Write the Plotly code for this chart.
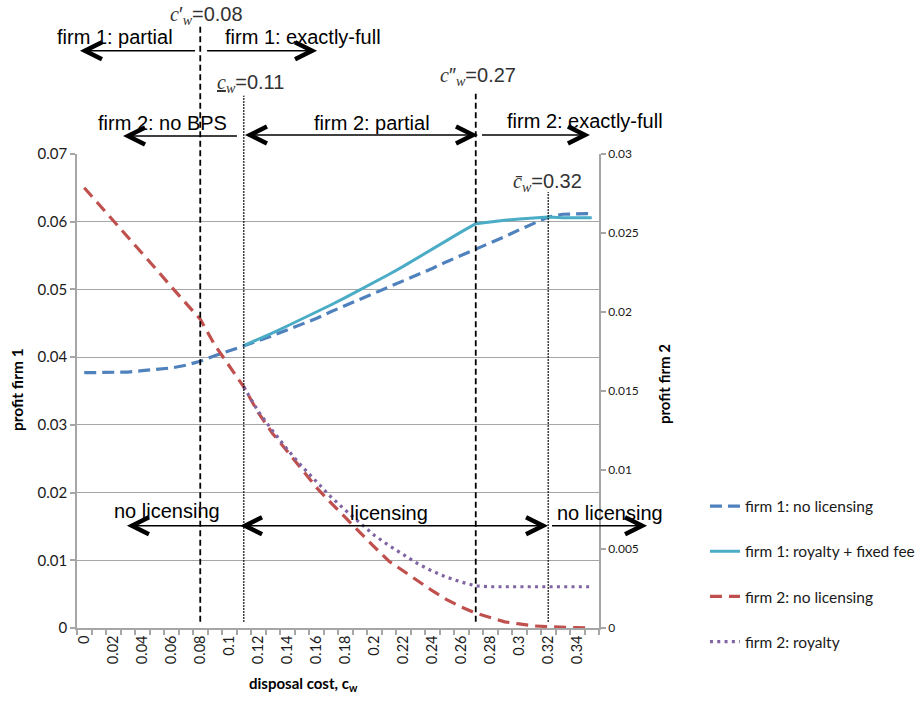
import plotly.graph_objects as go

# ---------------- data ----------------
cw = [0, 0.01, 0.02, 0.03, 0.04, 0.05, 0.06, 0.07, 0.08, 0.09,
      0.10, 0.11, 0.12, 0.13, 0.14, 0.15, 0.16, 0.17, 0.18, 0.19,
      0.20, 0.21, 0.22, 0.23, 0.24, 0.25, 0.26, 0.27, 0.28, 0.29,
      0.30, 0.31, 0.32, 0.33, 0.34, 0.35]

# profit firm 1 (left axis)
firm1_no_licensing = [0.0377, 0.0377, 0.0377, 0.0378, 0.0380, 0.0382, 0.0384, 0.0388, 0.0394, 0.0402,
                      0.0409, 0.0417, 0.0424, 0.0432, 0.0440, 0.0449, 0.0457, 0.0467, 0.0476, 0.0485,
                      0.0494, 0.0503, 0.0512, 0.0522, 0.0531, 0.0541, 0.0550, 0.0560, 0.0569, 0.0578,
                      0.0588, 0.0598, 0.0607, 0.0611, 0.0612, 0.0612]
firm1_royalty_fee = [None] * 11 + [0.0417, 0.0426, 0.0436, 0.0446, 0.0456, 0.0466, 0.0477, 0.0488, 0.0499,
                                   0.0510, 0.0522, 0.0534, 0.0547, 0.0560, 0.0572, 0.0585, 0.0597, 0.0600, 0.0602,
                                   0.0604, 0.0606, 0.0607, 0.0606, 0.0606, 0.0606]

# profit firm 2 (right axis)
firm2_no_licensing = [0.02786, 0.02683, 0.02576, 0.02473, 0.02370, 0.02267, 0.02160, 0.02057, 0.01954, 0.01791,
                      0.01654, 0.01526, 0.01363, 0.01230, 0.01119, 0.01003, 0.00891, 0.00793, 0.00699, 0.00604,
                      0.00514, 0.00424, 0.00360, 0.00300, 0.00236, 0.00180, 0.00133, 0.00094, 0.00064, 0.00039,
                      0.00026, 0.00013, 0.00009, 0.00004, 0.00002, 0.00000]
firm2_royalty = [None] * 11 + [0.01526, 0.01371, 0.01247, 0.01131, 0.01024, 0.00926, 0.00831, 0.00746, 0.00664,
                               0.00587, 0.00523, 0.00463, 0.00407, 0.00360, 0.00321, 0.00291, 0.00266, 0.00261, 0.00261,
                               0.00261, 0.00261, 0.00261, 0.00261, 0.00261, 0.00261]

x_tickvals = [0, 0.02, 0.04, 0.06, 0.08, 0.10, 0.12, 0.14, 0.16, 0.18,
              0.20, 0.22, 0.24, 0.26, 0.28, 0.30, 0.32, 0.34]
x_ticktext = ["0", "0.02", "0.04", "0.06", "0.08", "0.1", "0.12", "0.14", "0.16", "0.18",
              "0.2", "0.22", "0.24", "0.26", "0.28", "0.3", "0.32", "0.34"]
y1_tickvals = [0, 0.01, 0.02, 0.03, 0.04, 0.05, 0.06, 0.07]
y1_ticktext = ["0", "0.01", "0.02", "0.03", "0.04", "0.05", "0.06", "0.07"]
y2_tickvals = [0, 0.005, 0.01, 0.015, 0.02, 0.025, 0.03]
y2_ticktext = ["0", "0.005", "0.01", "0.015", "0.02", "0.025", "0.03"]

# thresholds
c_prime = 0.08      # c'_w
c_under = 0.11      # underline c_w
c_dprime = 0.27     # c''_w
c_bar = 0.32        # bar c_w

# ---------------- figure ----------------
GRAY = "#A6A6A6"
TICKFONT = "Lato, Noto Sans, sans-serif"
ANNFONT = "Liberation Sans, Arial, sans-serif"
SERIF = "Liberation Serif, DejaVu Serif, serif"
XR = [-0.005, 0.355]


def xp(v):
    """data x -> paper fraction"""
    return (v - XR[0]) / (XR[1] - XR[0])


fig = go.Figure()
fig.add_trace(go.Scatter(x=cw, y=firm1_no_licensing, name="firm 1: no licensing", mode="lines",
                         line=dict(color="#4F81BD", width=3.2, dash="12px,6px"), legendgroup="a"))
fig.add_trace(go.Scatter(x=cw, y=firm1_royalty_fee, name="firm 1: royalty + fixed fee", mode="lines",
                         line=dict(color="#4BACC6", width=3), legendgroup="b"))
fig.add_trace(go.Scatter(x=cw, y=firm2_no_licensing, name="firm 2: no licensing", mode="lines",
                         line=dict(color="#C0504D", width=3.2, dash="12px,7px"), legendgroup="c", yaxis="y2"))
fig.add_trace(go.Scatter(x=cw, y=firm2_royalty, name="firm 2: royalty", mode="lines",
                         line=dict(color="#8064A2", width=3.2, dash="3px,4.3px"), legendgroup="d", yaxis="y2"))

fig.update_layout(
    width=921, height=711,
    margin=dict(l=77, r=322, t=154, b=83, autoexpand=False),
    plot_bgcolor="white", paper_bgcolor="white",
    xaxis=dict(range=XR, tickvals=x_tickvals, ticktext=x_ticktext, tickangle=-90,
               ticks="", showline=True, linecolor=GRAY, linewidth=1.5, showgrid=False, zeroline=False,
               tickfont=dict(family=TICKFONT, size=14.5, color="#1a1a1a"),
               minor=dict(ticks="outside", tick0=-0.005, dtick=0.01, ticklen=5, tickcolor=GRAY,
                          tickwidth=1.5, showgrid=False)),
    yaxis=dict(range=[0, 0.07], tickvals=y1_tickvals, ticktext=y1_ticktext, ticks="outside",
               ticklen=5, tickcolor=GRAY, tickwidth=1.5, showline=True, linecolor=GRAY, linewidth=1.5,
               showgrid=True, gridcolor=GRAY, gridwidth=1.3, zeroline=False,
               tickfont=dict(family=TICKFONT, size=15, color="#1a1a1a")),
    yaxis2=dict(range=[0, 0.03], tickvals=y2_tickvals, ticktext=y2_ticktext, overlaying="y", side="right",
                ticks="outside", ticklen=5, tickcolor=GRAY, tickwidth=1.5, showline=True, linecolor=GRAY,
                linewidth=1.5, showgrid=False, zeroline=False,
                tickfont=dict(family=TICKFONT, size=12, color="#1a1a1a")),
    legend=dict(x=1.203, xanchor="left", y=0.292, yanchor="top", tracegroupgap=22,
                font=dict(family=TICKFONT, size=15.5, color="#1a1a1a"), bgcolor="rgba(0,0,0,0)"),
)


# vertical threshold lines
def vline(x, y1, dash, width):
    fig.add_shape(type="line", xref="x", yref="paper", x0=x, x1=x, y0=0.013, y1=y1,
                  line=dict(color="black", width=width, dash=dash))


vline(c_prime, 1.275, "6px,3.5px", 1.8)
vline(c_under, 1.123, "1.5px,1.5px", 1.5)
vline(c_dprime, 1.127, "6px,3.5px", 1.8)
vline(c_bar, 0.92, "1.5px,1.5px", 1.5)


# arrows (positions given in x-data units, drawn in paper space so nothing is clipped)
def head(x, y, direction):
    s = 1 if direction == "right" else -1
    fig.add_shape(type="path", xref="paper", yref="paper", xsizemode="pixel", ysizemode="pixel",
                  xanchor=xp(x), yanchor=y,
                  path=f"M{-17*s},8.5 L0,0 L{-17*s},-8.5",
                  line=dict(color="black", width=4.5))


def arrow(x_from, x_to, y, both=False):
    fig.add_shape(type="line", xref="paper", yref="paper", x0=xp(x_from), x1=xp(x_to), y0=y, y1=y,
                  line=dict(color="black", width=1.6))
    head(x_to, y, "right" if x_to > x_from else "left")
    if both:
        head(x_from, y, "right" if x_from > x_to else "left")


arrow(0.0764, 0.0005, 1.2178)
arrow(0.0847, 0.1571, 1.2178)
arrow(0.1053, 0.0302, 1.038)
arrow(0.1143, 0.2681, 1.040, both=True)
arrow(0.2743, 0.3453, 1.040)
arrow(0.1088, 0.0329, 0.2156)
arrow(0.1109, 0.3164, 0.2156, both=True)
arrow(0.3226, 0.3847, 0.2156)


def text(x, y, s, color="black", size=20):
    fig.add_annotation(x=xp(x), y=y, xref="paper", yref="paper", text=s, showarrow=False,
                       font=dict(family=ANNFONT, size=size, color=color), xanchor="center", yanchor="middle")


text(0.0212, 1.2474, "firm 1: partial")
text(0.1509, 1.2474, "firm 1: exactly-full")
text(0.0540, 1.0655, "firm 2: no BPS")
text(0.1984, 1.0655, "firm 2: partial")
text(0.3453, 1.0698, "firm 2: exactly-full")
text(0.0571, 0.2474, "no licensing")
text(0.2102, 0.2431, "licensing")
text(0.3626, 0.2431, "no licensing")


def cs(s):
    return f'<span style="font-family:{SERIF}"><i>{s}</i></span>'


MATH = "#333333"
text(0.0840, 1.293, cs("c") + "′" + "<sub>" + cs("w") + "</sub>=0.08", MATH)
text(0.1145, 1.148, "<u>" + cs("c") + "</u><sub>" + cs("w") + "</sub>=0.11", MATH)
text(0.2715, 1.163, cs("c") + "″" + "<sub>" + cs("w") + "</sub>=0.27", MATH)
text(0.3198, 0.9408, cs("c\u0304") + "<sub>" + cs("w") + "</sub>=0.32", MATH)

# axis titles
fig.add_annotation(x=-0.136, y=0.502, xref="paper", yref="paper", text="<b>profit firm 1</b>",
                   textangle=-90, showarrow=False, font=dict(family=TICKFONT, size=15.5, color="black"))
fig.add_annotation(x=1.146, y=0.515, xref="paper", yref="paper", text="<b>profit firm 2</b>",
                   textangle=-90, showarrow=False, font=dict(family=TICKFONT, size=15, color="black"))
fig.add_annotation(x=0.433, y=-0.1435, xref="paper", yref="paper", text="<b>disposal cost, c<sub>w</sub></b>",
                   showarrow=False, font=dict(family=TICKFONT, size=15, color="black"))

fig.write_html("out.html")
